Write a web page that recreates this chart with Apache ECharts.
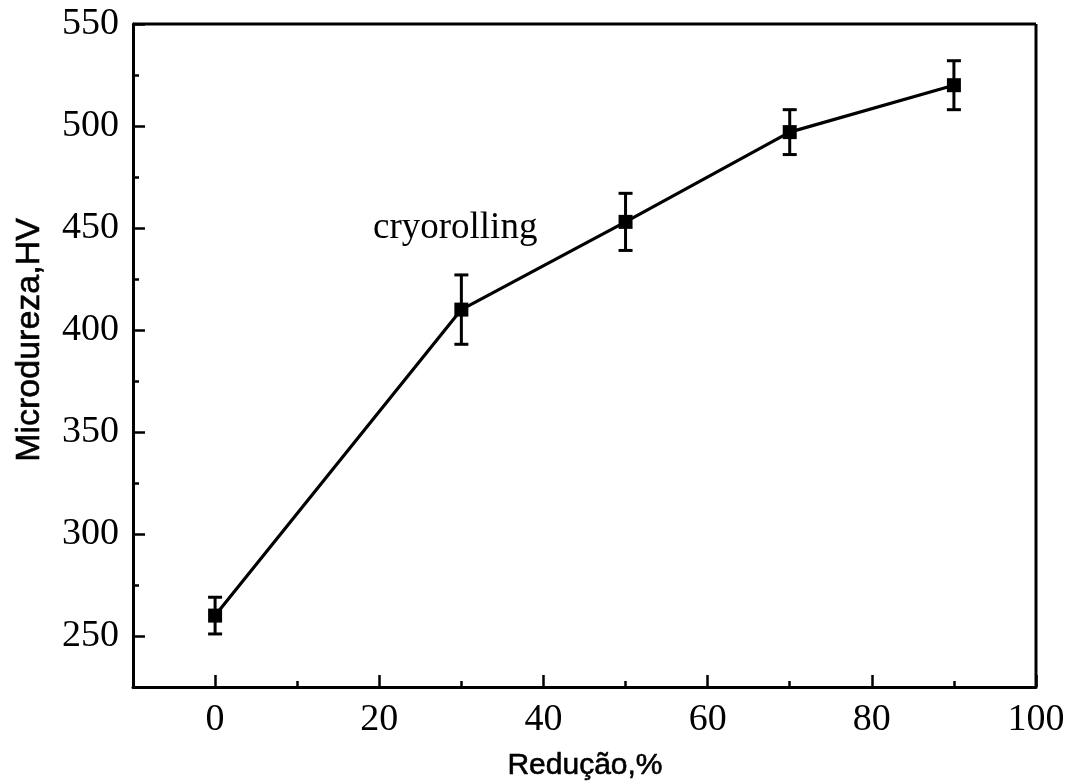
<!DOCTYPE html>
<html><head><meta charset="utf-8">
<script src="https://cdn.jsdelivr.net/npm/echarts@6/dist/echarts.min.js"></script>
<style>html,body{margin:0;padding:0;background:#fff}#c{width:1071px;height:784px}</style>
</head><body><div id="c"></div>
<script>
const reduction = [0, 30, 50, 70, 90];
const hardness = [260, 410, 453, 497, 520];
const errors = [9, 17, 14, 11, 12];
const xTicks = [0, 20, 40, 60, 80, 100];
const yTicks = [250, 300, 350, 400, 450, 500, 550];

const chart = echarts.init(document.getElementById('c'));
const serif = '"Liberation Serif","Times New Roman",serif';
const sans = '"Liberation Sans",Arial,sans-serif';
const errData = reduction.map((x, i) => [x, hardness[i] - errors[i], hardness[i] + errors[i]]);
const axisCol = '#000';

chart.setOption({
  animation: false,
  backgroundColor: '#fff',
  grid: {left: 133, top: 24, right: 35, bottom: 97},
  xAxis: [{
    type: 'value', min: -10, max: 100,
    axisLine: {show: true, onZero: false, lineStyle: {color: axisCol, width: 3}},
    axisTick: {show: true, inside: true, length: 12, customValues: xTicks, lineStyle: {color: axisCol, width: 2.5}},
    axisLabel: {fontFamily: serif, fontSize: 38, color: '#000', margin: 14, customValues: xTicks},
    splitLine: {show: false}
  }, {
    type: 'value', min: -10, max: 100, interval: 10, position: 'bottom',
    axisLine: {show: false, onZero: false},
    axisTick: {show: true, inside: true, length: 6, lineStyle: {color: axisCol, width: 2.5}},
    axisLabel: {show: false},
    splitLine: {show: false}
  }],
  yAxis: [{
    type: 'value', min: 225, max: 550,
    axisLine: {show: true, onZero: false, lineStyle: {color: axisCol, width: 3}},
    axisTick: {show: true, inside: true, length: 12, customValues: yTicks, lineStyle: {color: axisCol, width: 2.5}},
    axisLabel: {fontFamily: serif, fontSize: 38, color: '#000', margin: 14, customValues: yTicks},
    splitLine: {show: false}
  }, {
    type: 'value', min: 225, max: 550, interval: 25, position: 'left',
    axisLine: {show: false, onZero: false},
    axisTick: {show: true, inside: true, length: 6, lineStyle: {color: axisCol, width: 2.5}},
    axisLabel: {show: false},
    splitLine: {show: false}
  }],
  graphic: [
    {type: 'line', shape: {x1: 133, y1: 24, x2: 1036, y2: 24}, style: {stroke: '#000', lineWidth: 3}},
    {type: 'line', shape: {x1: 1036, y1: 24, x2: 1036, y2: 687}, style: {stroke: '#000', lineWidth: 3}},
    {type: 'text', left: 373, top: 210, style: {text: 'cryorolling', font: '37px ' + serif, fill: '#000'}},
    {type: 'text', x: 585, y: 766, style: {text: 'Redução,%', font: '30px ' + sans, fill: '#000', stroke: '#000', lineWidth: 0.6, textAlign: 'center', textVerticalAlign: 'middle'}},
    {type: 'text', x: 30, y: 340, rotation: Math.PI / 2, style: {text: 'Microdureza,HV', font: '34px ' + sans, fill: '#000', stroke: '#000', lineWidth: 0.6, textAlign: 'center', textVerticalAlign: 'middle'}}
  ],
  series: [
    {
      type: 'line', data: reduction.map((x, i) => [x, hardness[i]]),
      symbol: 'rect', symbolSize: 14,
      lineStyle: {color: '#000', width: 3.2}, itemStyle: {color: '#000'}, z: 3
    },
    {
      type: 'custom', data: errData, z: 4,
      encode: {x: 0, y: [1, 2]},
      renderItem: (params, api) => {
        const x = api.value(0);
        const lo = api.coord([x, api.value(1)]);
        const hi = api.coord([x, api.value(2)]);
        const hw = 7;
        const st = {stroke: '#000', lineWidth: 3};
        return {type: 'group', children: [
          {type: 'line', shape: {x1: lo[0], y1: lo[1], x2: hi[0], y2: hi[1]}, style: st},
          {type: 'line', shape: {x1: lo[0] - hw, y1: lo[1], x2: lo[0] + hw, y2: lo[1]}, style: st},
          {type: 'line', shape: {x1: hi[0] - hw, y1: hi[1], x2: hi[0] + hw, y2: hi[1]}, style: st}
        ]};
      }
    }
  ]
});
</script></body></html>
